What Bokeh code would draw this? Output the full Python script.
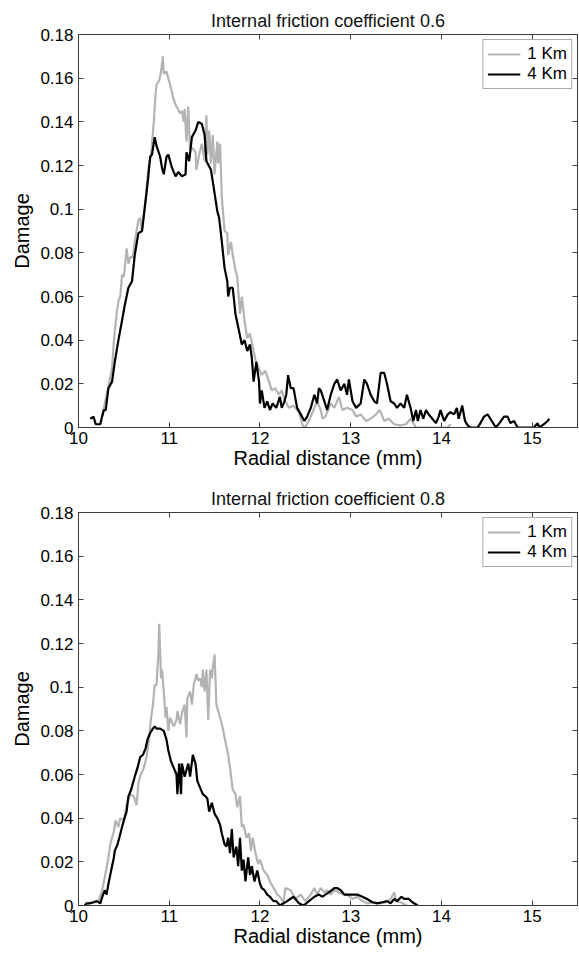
from bokeh.plotting import figure
from bokeh.layouts import column
from bokeh.models import LinearAxis, FixedTicker, CustomJSTickFormatter, Range1d, Legend, LegendItem
from bokeh.embed import file_html
from bokeh.resources import INLINE

titles = ["Internal friction coefficient 0.6", "Internal friction coefficient 0.8"]
series_names = ["1 Km", "4 Km"]
x_ticks = [10, 11, 12, 13, 14, 15]
y_ticks = [0, 0.02, 0.04, 0.06, 0.08, 0.1, 0.12, 0.14, 0.16, 0.18]

# ---- Internal friction coefficient 0.6 ----
top_1km_x = [10.26,10.29,10.33,10.37,10.39,10.42,10.44,10.46,10.48,10.50,10.51,10.53,10.55,10.57,10.60,10.62,10.66,10.68,10.70,10.74,
             10.77,10.80,10.83,10.85,10.86,10.89,10.91,10.93,10.94,10.97,11.01,11.05,11.08,11.12,11.14,11.16,11.17,11.19,11.21,11.23,
             11.26,11.29,11.30,11.33,11.36,11.39,11.41,11.42,11.44,11.46,11.48,11.50,11.53,11.54,11.56,11.58,11.61,11.64,11.65,11.68,
             11.70,11.73,11.75,11.78,11.80,11.83,11.86,11.89,11.92,11.95,11.99,12.02,12.06,12.10,12.13,12.17,12.21,12.24,12.28,12.32,
             12.37,12.43,12.47,12.50,12.56,12.60,12.63,12.67,12.69,12.72,12.78,12.82,12.87,12.91,12.96,13.02,13.06,13.11,13.17,13.22,
             13.28,13.32,13.37,13.42,13.48,13.55,13.61,13.66,13.72,14.07,14.10]
top_1km_y = [0.005,0.011,0.019,0.027,0.040,0.052,0.058,0.060,0.070,0.069,0.073,0.082,0.075,0.078,0.078,0.085,0.095,0.096,0.090,0.105,
             0.119,0.125,0.140,0.153,0.157,0.159,0.163,0.170,0.162,0.163,0.157,0.150,0.147,0.144,0.145,0.140,0.146,0.131,0.147,0.127,
             0.128,0.126,0.118,0.125,0.130,0.122,0.143,0.125,0.136,0.121,0.134,0.116,0.131,0.121,0.130,0.105,0.090,0.089,0.079,0.085,
             0.079,0.072,0.069,0.052,0.060,0.049,0.041,0.043,0.037,0.031,0.027,0.024,0.026,0.021,0.017,0.018,0.015,0.017,0.012,0.009,
             0.010,0.007,0.001,0.0,0.005,0.009,0.012,0.008,0.004,0.005,0.011,0.009,0.014,0.008,0.009,0.008,0.005,0.006,0.003,0.004,
             0.006,0.008,0.003,0.004,0.0015,0.001,0.0015,0.004,0.0,0.0,0.0015]

top_4km_x = [10.13,10.165,10.19,10.24,10.26,10.28,10.30,10.33,10.37,10.40,10.44,10.48,10.51,10.55,10.59,10.62,10.66,10.70,10.74,10.77,
             10.79,10.81,10.84,10.86,10.90,10.92,10.94,10.97,10.99,11.03,11.07,11.10,11.14,11.18,11.19,11.22,11.25,11.29,11.32,11.36,
             11.39,11.41,11.46,11.49,11.53,11.55,11.58,11.61,11.64,11.65,11.67,11.70,11.73,11.76,11.80,11.83,11.86,11.89,11.91,11.93,
             11.96,11.99,12.00,12.02,12.05,12.08,12.11,12.14,12.18,12.22,12.24,12.27,12.29,12.31,12.34,12.37,12.41,12.45,12.49,12.52,
             12.56,12.60,12.63,12.65,12.67,12.71,12.74,12.78,12.82,12.85,12.89,12.93,12.96,12.98,13.02,13.06,13.11,13.15,13.18,13.22,
             13.26,13.29,13.33,13.37,13.40,13.44,13.48,13.51,13.55,13.59,13.62,13.66,13.69,13.72,13.74,13.77,13.80,13.83,13.86,13.90,
             13.94,13.97,13.99,14.03,14.07,14.10,14.14,14.17,14.19,14.23,14.26,14.29,14.32,14.40,14.43,14.47,14.51,14.54,14.60,14.64,
             14.69,14.73,14.76,14.80,14.84,15.02,15.06,15.08,15.13,15.17,15.19]
top_4km_y = [0.004,0.005,0.0015,0.0015,0.005,0.008,0.008,0.018,0.021,0.030,0.040,0.049,0.056,0.064,0.067,0.079,0.089,0.090,0.104,0.115,
             0.124,0.125,0.133,0.129,0.124,0.119,0.116,0.124,0.125,0.119,0.115,0.117,0.115,0.116,0.126,0.122,0.133,0.136,0.140,0.139,
             0.134,0.122,0.118,0.110,0.099,0.096,0.085,0.073,0.067,0.060,0.064,0.064,0.052,0.046,0.038,0.040,0.035,0.038,0.032,0.021,
             0.030,0.021,0.011,0.017,0.009,0.012,0.008,0.011,0.009,0.014,0.009,0.012,0.015,0.024,0.018,0.018,0.009,0.006,0.003,0.005,
             0.009,0.015,0.011,0.018,0.017,0.012,0.008,0.015,0.020,0.022,0.017,0.020,0.015,0.022,0.012,0.009,0.011,0.022,0.020,0.015,
             0.012,0.011,0.025,0.025,0.020,0.012,0.011,0.009,0.011,0.009,0.015,0.009,0.003,0.008,0.003,0.008,0.004,0.008,0.006,0.004,
             0.002,0.005,0.008,0.003,0.006,0.007,0.006,0.009,0.004,0.010,0.003,0.001,0.0,0.0,0.002,0.005,0.006,0.004,0.0,0.002,
             0.005,0.005,0.002,0.003,0.0,0.0,0.002,0.0,0.0015,0.003,0.004]

# ---- Internal friction coefficient 0.8 ----
bot_1km_x = [10.09,10.15,10.22,10.26,10.29,10.33,10.35,10.37,10.39,10.41,10.44,10.46,10.50,10.53,10.57,10.61,10.64,10.66,10.68,10.72,
             10.75,10.78,10.80,10.82,10.84,10.86,10.88,10.89,10.91,10.92,10.94,10.96,10.97,10.99,11.01,11.05,11.08,11.09,11.12,11.14,
             11.17,11.19,11.20,11.23,11.25,11.27,11.29,11.30,11.32,11.34,11.36,11.37,11.39,11.41,11.43,11.45,11.47,11.48,11.50,11.52,
             11.54,11.58,11.62,11.65,11.67,11.70,11.73,11.75,11.78,11.80,11.82,11.85,11.88,11.90,11.92,11.95,11.98,12.00,12.04,12.08,
             12.11,12.15,12.19,12.22,12.26,12.28,12.34,12.39,12.45,12.50,12.56,12.60,12.63,12.67,12.71,12.74,12.78,12.82,12.87,12.93,
             12.96,13.02,13.07,13.13,13.18,13.26,13.33,13.39,13.44,13.48,13.50,13.55,13.62]
bot_1km_y = [0.001,0.0015,0.002,0.007,0.013,0.022,0.028,0.031,0.034,0.039,0.036,0.040,0.039,0.046,0.051,0.050,0.046,0.056,0.059,0.063,
             0.068,0.077,0.086,0.092,0.101,0.101,0.115,0.129,0.104,0.108,0.098,0.086,0.091,0.080,0.086,0.082,0.085,0.089,0.083,0.088,
             0.092,0.077,0.095,0.098,0.092,0.101,0.104,0.106,0.103,0.104,0.100,0.108,0.098,0.108,0.085,0.108,0.104,0.109,0.115,0.092,
             0.089,0.083,0.075,0.069,0.063,0.053,0.051,0.045,0.050,0.036,0.037,0.031,0.033,0.025,0.031,0.024,0.019,0.021,0.016,0.014,
             0.011,0.008,0.005,0.004,0.0015,0.008,0.007,0.003,0.005,0.002,0.005,0.008,0.005,0.008,0.006,0.007,0.005,0.007,0.006,0.005,
             0.005,0.003,0.004,0.002,0.001,0.0015,0.001,0.0015,0.003,0.006,0.002,0.0015,0.0]

bot_4km_x = [10.07,10.09,10.13,10.17,10.20,10.24,10.27,10.29,10.31,10.33,10.36,10.39,10.40,10.43,10.45,10.48,10.50,10.53,10.55,10.58,
             10.60,10.62,10.65,10.68,10.71,10.74,10.76,10.79,10.82,10.84,10.86,10.90,10.94,10.97,10.99,11.02,11.05,11.08,11.09,11.11,
             11.13,11.14,11.17,11.19,11.21,11.23,11.26,11.29,11.31,11.34,11.37,11.40,11.42,11.44,11.47,11.50,11.53,11.56,11.58,11.61,
             11.63,11.65,11.67,11.69,11.71,11.74,11.76,11.78,11.80,11.82,11.84,11.87,11.89,11.91,11.94,11.97,12.00,12.02,12.05,12.08,
             12.11,12.15,12.18,12.22,12.26,12.30,12.37,12.43,12.48,12.54,12.60,12.65,12.69,12.72,12.76,12.82,12.85,12.89,12.93,12.96,
             13.02,13.07,13.13,13.18,13.24,13.29,13.35,13.40,13.44,13.48,13.51,13.56,13.59,13.64,13.68,13.74]
bot_4km_y = [0.0,0.001,0.001,0.0015,0.002,0.001,0.005,0.007,0.005,0.010,0.016,0.022,0.025,0.028,0.031,0.036,0.039,0.043,0.050,0.053,
             0.056,0.059,0.063,0.068,0.069,0.072,0.076,0.079,0.081,0.082,0.081,0.081,0.080,0.076,0.071,0.066,0.063,0.060,0.051,0.065,
             0.051,0.065,0.059,0.062,0.065,0.059,0.069,0.065,0.057,0.054,0.051,0.050,0.049,0.043,0.047,0.042,0.040,0.037,0.033,0.028,
             0.027,0.031,0.024,0.035,0.022,0.027,0.018,0.031,0.016,0.021,0.011,0.022,0.014,0.018,0.011,0.016,0.010,0.008,0.007,0.005,
             0.004,0.002,0.002,0.0,0.001,0.002,0.004,0.001,0.0,0.002,0.004,0.005,0.004,0.005,0.006,0.008,0.008,0.007,0.005,0.005,
             0.005,0.005,0.004,0.003,0.0015,0.001,0.0015,0.002,0.001,0.003,0.002,0.004,0.003,0.003,0.0015,0.0]

FONT = "Liberation Sans"
GREY = "#b3b3b3"
AXC = "#3c3c3c"

fmt = CustomJSTickFormatter(code="""
if (Math.abs(tick) < 1e-9) { return "0"; }
var s = tick.toFixed(2);
s = s.replace(/0+$/, "");
return s;
""")
blank = CustomJSTickFormatter(code='return "";')


def make_plot(title, x1, y1, x4, y4, height, border_top, border_bottom):
    p = figure(width=579, height=height, output_backend="svg", toolbar_location=None,
               x_range=Range1d(10, 15.5), y_range=Range1d(0, 0.18),
               min_border_left=78, min_border_right=2,
               min_border_top=border_top, min_border_bottom=border_bottom)
    p.title.text = title
    p.title.align = "center"
    p.title.text_font = FONT
    p.title.text_font_size = "18px"
    p.title.text_font_style = "normal"
    p.title.text_color = "#111111"
    p.title.offset = 0
    p.title.standoff = 8
    p.grid.visible = False
    p.outline_line_color = AXC
    p.outline_line_width = 1
    p.background_fill_color = "white"
    p.border_fill_color = "white"

    r1 = p.line(x1, y1, line_color=GREY, line_width=2.2)
    r4 = p.line(x4, y4, line_color="black", line_width=2.2)

    xt = FixedTicker(ticks=x_ticks, minor_ticks=[])
    yt = FixedTicker(ticks=y_ticks, minor_ticks=[])

    for ax in p.xaxis:
        ax.ticker = xt
        ax.axis_label = "Radial distance (mm)"
    for ax in p.yaxis:
        ax.ticker = yt
        ax.formatter = fmt
        ax.axis_label = "Damage"
    for ax in list(p.xaxis) + list(p.yaxis):
        ax.major_tick_in = 5
        ax.major_tick_out = 0
        ax.minor_tick_line_color = None
        ax.axis_line_color = AXC
        ax.major_tick_line_color = AXC
        ax.major_label_text_font = FONT
        ax.major_label_text_font_size = "17px"
        ax.major_label_text_color = "black"
        ax.axis_label_text_font = FONT
        ax.axis_label_text_font_size = "20px"
        ax.axis_label_text_font_style = "normal"
        ax.axis_label_text_color = "black"
    p.xaxis.major_label_standoff = 4
    p.xaxis.axis_label_standoff = 0
    p.yaxis.major_label_standoff = 5
    p.yaxis.axis_label_standoff = 4

    top_ax = LinearAxis(ticker=xt, formatter=blank, major_tick_in=5, major_tick_out=0,
                        minor_tick_line_color=None, axis_line_color=AXC, major_tick_line_color=AXC,
                        major_label_standoff=6)
    right_ax = LinearAxis(ticker=yt, formatter=blank, major_tick_in=5, major_tick_out=0,
                          minor_tick_line_color=None, axis_line_color=AXC, major_tick_line_color=AXC,
                          major_label_standoff=0)
    p.add_layout(top_ax, "above")
    p.add_layout(right_ax, "right")

    legend = Legend(items=[LegendItem(label=series_names[0], renderers=[r1]),
                           LegendItem(label=series_names[1], renderers=[r4])],
                    location="top_right")
    legend.label_text_font = FONT
    legend.label_text_font_size = "17px"
    legend.label_text_color = "black"
    legend.border_line_color = "#555555"
    legend.border_line_width = 1
    legend.background_fill_alpha = 1
    legend.glyph_width = 33
    legend.glyph_height = 18
    legend.label_height = 18
    legend.label_standoff = 7
    legend.spacing = 0
    legend.padding = 4
    legend.margin = 5
    p.add_layout(legend)
    return p


p1 = make_plot(titles[0], top_1km_x, top_1km_y, top_4km_x, top_4km_y, 476, 34, 49)
p2 = make_plot(titles[1], bot_1km_x, bot_1km_y, bot_4km_x, bot_4km_y, 477, 36, 48)

layout = column(p1, p2, spacing=0)
open("out.html", "w").write(file_html(layout, INLINE))
